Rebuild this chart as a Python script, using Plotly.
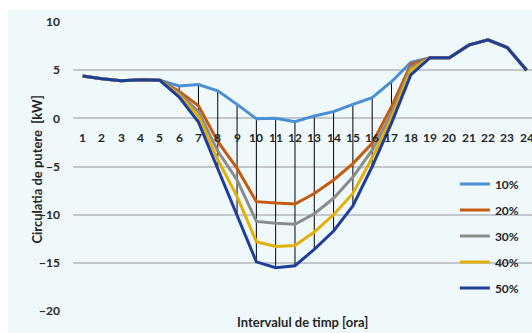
import plotly.graph_objects as go

# Hourly power flow for five penetration levels
hours = list(range(1, 25))
s10 = [4.4, 4.1, 3.9, 4.0, 3.95, 3.35, 3.5, 2.85, 1.45, -0.05, 0.0, -0.35,
       0.25, 0.7, 1.45, 2.15, 3.8, 5.8, 6.3, 6.3, 7.6, 8.15, 7.35, 5.0]
s20 = [4.4, 4.1, 3.9, 4.0, 3.95, 2.8, 1.3, -2.4, -5.2, -8.65, -8.8, -8.9,
       -7.8, -6.4, -4.7, -2.6, 1.2, 5.6, 6.3, 6.3, 7.6, 8.15, 7.35, 5.0]
s30 = [4.4, 4.1, 3.9, 4.0, 3.95, 2.6, 0.7, -3.4, -6.4, -10.7, -10.9, -11.0,
       -9.9, -8.3, -6.1, -3.3, 0.5, 5.3, 6.3, 6.3, 7.6, 8.15, 7.35, 5.0]
s40 = [4.4, 4.1, 3.9, 4.0, 3.95, 2.4, 0.2, -4.3, -8.1, -12.8, -13.3, -13.2,
       -11.8, -10.0, -7.8, -4.1, 0.0, 5.0, 6.3, 6.3, 7.6, 8.15, 7.35, 5.0]
s50 = [4.4, 4.1, 3.9, 4.0, 3.95, 2.2, -0.4, -5.2, -10.2, -14.9, -15.5, -15.3,
       -13.6, -11.7, -9.1, -5.0, -0.5, 4.5, 6.3, 6.3, 7.6, 8.15, 7.35, 5.0]
names = ['10%', '20%', '30%', '40%', '50%']
colors = ['#4A8ED3', '#C55A11', '#8C8C8C', '#E2B007', '#1F3E9C']
drop_hours = list(range(6, 19))  # hours with vertical markers

font = 'Lato'
txt = '#262626'
bg = '#EFF9FC'
fig = go.Figure()

# vertical lines between the 10% and 50% curves
vx, vy = [], []
for h in drop_hours:
    i = hours.index(h)
    vx += [h, h, None]
    vy += [s10[i], s50[i], None]
fig.add_trace(go.Scatter(x=vx, y=vy, mode='lines', line=dict(color='black', width=1),
                         showlegend=False, hoverinfo='skip'))

for n, s, c in zip(names, [s10, s20, s30, s40, s50], colors):
    fig.add_trace(go.Scatter(x=hours, y=s, name=n, mode='lines', legendgroup=n,
                             line=dict(color=c, width=3)))

# hour labels sitting under the zero line
for h in hours:
    fig.add_annotation(x=h, y=0, text=str(h), showarrow=False, yanchor='middle',
                       yshift=-19, font=dict(family=font, size=12, color=txt, weight='bold'))

fig.add_annotation(x=0.5, y=0, xref='paper', yref='paper', text='Intervalul de timp [ora]',
                   showarrow=False, yanchor='middle', yshift=-11,
                   font=dict(family=font, size=13, color=txt, weight='bold'))
fig.add_annotation(x=-0.078, y=0.49, xref='paper', yref='paper', text='Circulatia de putere  [kW]',
                   showarrow=False, textangle=-90, xanchor='center', yanchor='middle',
                   font=dict(family=font, size=13, color=txt, weight='bold'))

# light chart-area panel, leaving a thin white border at top and left
fig.add_shape(type='rect', xref='paper', yref='paper', x0=-0.1416, x1=1.05, y0=-0.1, y1=1.0415,
              fillcolor=bg, line_width=0, layer='below')

fig.update_layout(
    width=532, height=333,
    margin=dict(l=73, r=0, t=22, b=22, autoexpand=False),
    paper_bgcolor='white', plot_bgcolor=bg,
    font=dict(family=font, color=txt),
    legend=dict(x=0.832, y=0.49, xanchor='left', yanchor='top', bgcolor='rgba(0,0,0,0)',
                traceorder='grouped', tracegroupgap=7,
                font=dict(family=font, size=12, color=txt, weight='bold')),
    xaxis=dict(range=[0.5, 24.28], showgrid=False, zeroline=False, showticklabels=False,
               automargin=False),
    yaxis=dict(range=[-20, 10], dtick=5, gridcolor='#C3C7CB', gridwidth=1.5,
               zeroline=False, ticklabelstandoff=12, automargin=False,
               tickfont=dict(family=font, size=12, color=txt, weight='bold')),
)

# drop the default page margin so the figure sits at the window's corner
fig.write_html('out.html', config={'displayModeBar': False},
               post_script="document.body.style.margin='0';")
